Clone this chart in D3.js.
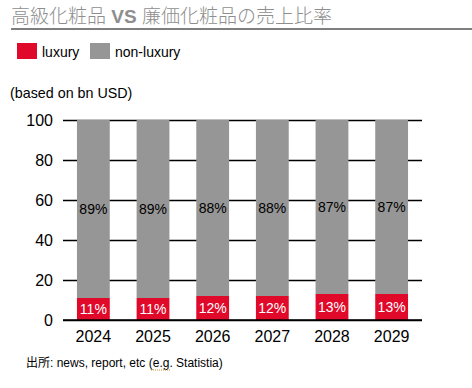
<!DOCTYPE html>
<html>
  <head>
    <meta charset="utf-8" />
    <title>高級化粧品 VS 廉価化粧品の売上比率</title>
    <style>
      body {
        margin: 0;
        background: #fff;
      }
      svg text {
        font-family: Arial, "Liberation Sans", "Noto Sans CJK JP", sans-serif;
      }
    </style>
  </head>
  <body>
    <svg class="canvas"></svg>
    <script src="https://cdn.jsdelivr.net/npm/d3@7"></script>
    <script>
      const years = ["2024", "2025", "2026", "2027", "2028", "2029"];
      const luxury = [11, 11, 12, 12, 13, 13];
      const nonLuxury = [89, 89, 88, 88, 87, 87];
      const yTicks = [0, 20, 40, 60, 80, 100];
      const seriesNames = ["luxury", "non-luxury"];
      const seriesColors = ["#e0092a", "#969696"];

      const width = 472,
        height = 388;

      const svg = d3
        .select(".canvas")
        .attr("width", width)
        .attr("height", height);

      //---------------title----------------
      svg
        .append("text")
        .attr("x", 11)
        .attr("y", 23)
        .attr("fill", "#8e8e8e")
        .style("font-size", "19px")
        .style("font-weight", "300")
        .html('高級化粧品 <tspan font-weight="bold" font-family="Arial, Liberation Sans">VS</tspan> 廉価化粧品の売上比率');

      svg
        .append("line")
        .attr("x1", 11)
        .attr("x2", width)
        .attr("y1", 29)
        .attr("y2", 29)
        .attr("stroke", "#7f7f7f")
        .attr("stroke-width", 2);

      //---------------legend----------------
      const legendX = [17, 90];
      seriesNames.forEach((name, i) => {
        svg
          .append("rect")
          .attr("x", legendX[i])
          .attr("y", 43)
          .attr("width", 20)
          .attr("height", 16)
          .attr("fill", seriesColors[i]);
        svg
          .append("text")
          .attr("x", legendX[i] + 25)
          .attr("y", 57)
          .attr("fill", "#000")
          .style("font-size", "14px")
          .text(name);
      });

      svg
        .append("text")
        .attr("x", 10)
        .attr("y", 98)
        .style("font-size", "14.3px")
        .text("(based on bn USD)");

      //---------------scales----------------
      const x = d3
        .scaleBand()
        .domain(years)
        .range([63, 422])
        .paddingInner(0.45)
        .paddingOuter(0.234);

      const y = d3.scaleLinear().domain([0, 100]).range([320, 120]);

      //---------------grid + y axis----------------
      const yAxis = svg
        .append("g")
        .attr("transform", "translate(63,0)")
        .call(
          d3
            .axisLeft(y)
            .tickValues(yTicks)
            .tickSize(-(422 - 63))
            .tickPadding(10)
        );
      yAxis.select(".domain").remove();
      yAxis.selectAll(".tick line").attr("stroke", "#000").attr("stroke-width", 1.3);
      yAxis
        .selectAll(".tick text")
        .attr("fill", "#000")
        .style("font-size", "16px")
        .style("font-family", "Arial, 'Liberation Sans', sans-serif");

      //---------------bars----------------
      const rows = years.map((yr, i) => ({
        year: yr,
        luxury: luxury[i],
        "non-luxury": nonLuxury[i],
      }));
      const stacked = d3.stack().keys(seriesNames)(rows);

      const layers = svg
        .append("g")
        .selectAll("g")
        .data(stacked)
        .join("g")
        .attr("fill", (d, i) => seriesColors[i]);

      layers
        .selectAll("rect")
        .data((d) => d)
        .join("rect")
        .attr("x", (d) => x(d.data.year))
        .attr("y", (d) => y(d[1]))
        .attr("width", x.bandwidth())
        .attr("height", (d) => y(d[0]) - y(d[1]));

      //---------------bar labels----------------
      stacked.forEach((layer, i) => {
        svg
          .append("g")
          .selectAll("text")
          .data(layer)
          .join("text")
          .attr("x", (d) => x(d.data.year) + x.bandwidth() / 2)
          .attr("y", (d) => (y(d[0]) + y(d[1])) / 2)
          .attr("dy", "0.36em")
          .attr("text-anchor", "middle")
          .attr("fill", i === 0 ? "#fff" : "#000")
          .style("font-size", "14px")
          .text((d) => d[1] - d[0] + "%");
      });

      //---------------baseline----------------
      svg
        .append("line")
        .attr("x1", 63)
        .attr("x2", 422)
        .attr("y1", y(0))
        .attr("y2", y(0))
        .attr("stroke", "#000")
        .attr("stroke-width", 1.3);

      //---------------x labels----------------
      svg
        .append("g")
        .selectAll("text")
        .data(years)
        .join("text")
        .attr("x", (d) => x(d) + x.bandwidth() / 2)
        .attr("y", 342)
        .attr("text-anchor", "middle")
        .style("font-size", "16px")
        .text((d) => d);

      //---------------source----------------
      svg
        .append("text")
        .attr("x", 26)
        .attr("y", 367)
        .style("font-size", "12px")
        .text("出所: news, report, etc (e.g. Statistia)");

      svg
        .append("line")
        .attr("x1", 151)
        .attr("x2", 171)
        .attr("y1", 370)
        .attr("y2", 370)
        .attr("stroke", "#c8902a")
        .attr("stroke-width", 1)
        .attr("stroke-dasharray", "1,1");
    </script>
  </body>
</html>
